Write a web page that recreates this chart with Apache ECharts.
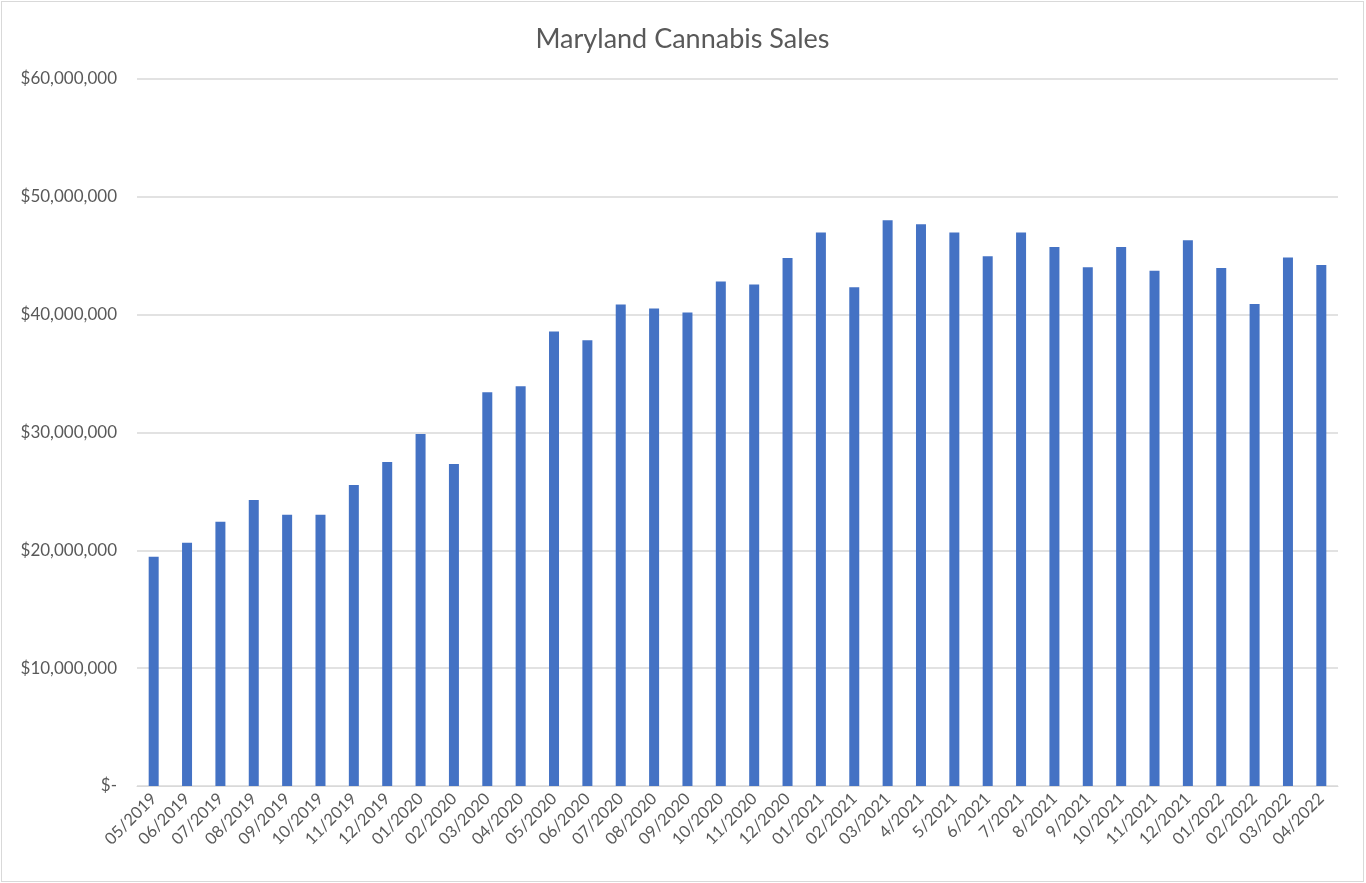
<!DOCTYPE html>
<html>
<head>
<meta charset="utf-8">
<script src="https://cdn.jsdelivr.net/npm/echarts@6/dist/echarts.min.js"></script>
<style>
html, body { margin: 0; padding: 0; background: #fff; }
#myChart { position: absolute; left: 1px; top: 1px; width: 1361px; height: 879px; border: 1px solid #d9d9d9; }
</style>
</head>
<body>
<div id="myChart"></div>
<script>
// 月份
var months = ['05/2019','06/2019','07/2019','08/2019','09/2019','10/2019','11/2019','12/2019',
	'01/2020','02/2020','03/2020','04/2020','05/2020','06/2020','07/2020','08/2020','09/2020',
	'10/2020','11/2020','12/2020','01/2021','02/2021','03/2021','4/2021','5/2021','6/2021',
	'7/2021','8/2021','9/2021','10/2021','11/2021','12/2021','01/2022','02/2022','03/2022','04/2022'];

// 销售额 (美元)
var sales = [19460000, 20640000, 22420000, 24280000, 23010000, 23010000, 25550000, 27500000,
	29870000, 27330000, 33420000, 33930000, 38580000, 37820000, 40870000, 40530000, 40190000,
	42810000, 42550000, 44800000, 46980000, 42330000, 48020000, 47680000, 46980000, 44950000,
	46980000, 45740000, 44030000, 45740000, 43720000, 46320000, 43960000, 40900000, 44860000, 44220000];

var yMin = 0, yMax = 60000000, yStep = 10000000;

var myChart = echarts.init(document.getElementById('myChart'));

var labelFont = 'Lato, "Open Sans", sans-serif';

var option = {
	animation: false,
	title: {
		text: 'Maryland Cannabis Sales',
		left: 'center',
		top: 19,
		textStyle: { color: '#595959', fontSize: 27, fontWeight: 'normal', fontFamily: labelFont }
	},
	grid: { left: 135, right: 25, top: 77, bottom: 95 },
	xAxis: {
		type: 'category',
		data: months,
		axisLine: { lineStyle: { color: '#d9d9d9' } },
		axisTick: { show: false },
		axisLabel: { rotate: 45, color: '#595959', fontSize: 16.5, fontFamily: labelFont, margin: 10, interval: 0 }
	},
	yAxis: {
		type: 'value',
		min: yMin,
		max: yMax,
		interval: yStep,
		axisLine: { show: false },
		axisTick: { show: false },
		splitLine: { lineStyle: { color: '#d9d9d9', width: 1.5 } },
		axisLabel: {
			color: '#595959', fontSize: 17, fontFamily: labelFont, margin: 20,
			formatter: function (v) {
				if (v === 0) return '$-';
				return '$' + v.toLocaleString('en-US');
			}
		}
	},
	series: [{
		type: 'bar',
		data: sales,
		barWidth: 10,
		itemStyle: { color: '#4472c4' }
	}]
};

myChart.setOption(option);
</script>
</body>
</html>
